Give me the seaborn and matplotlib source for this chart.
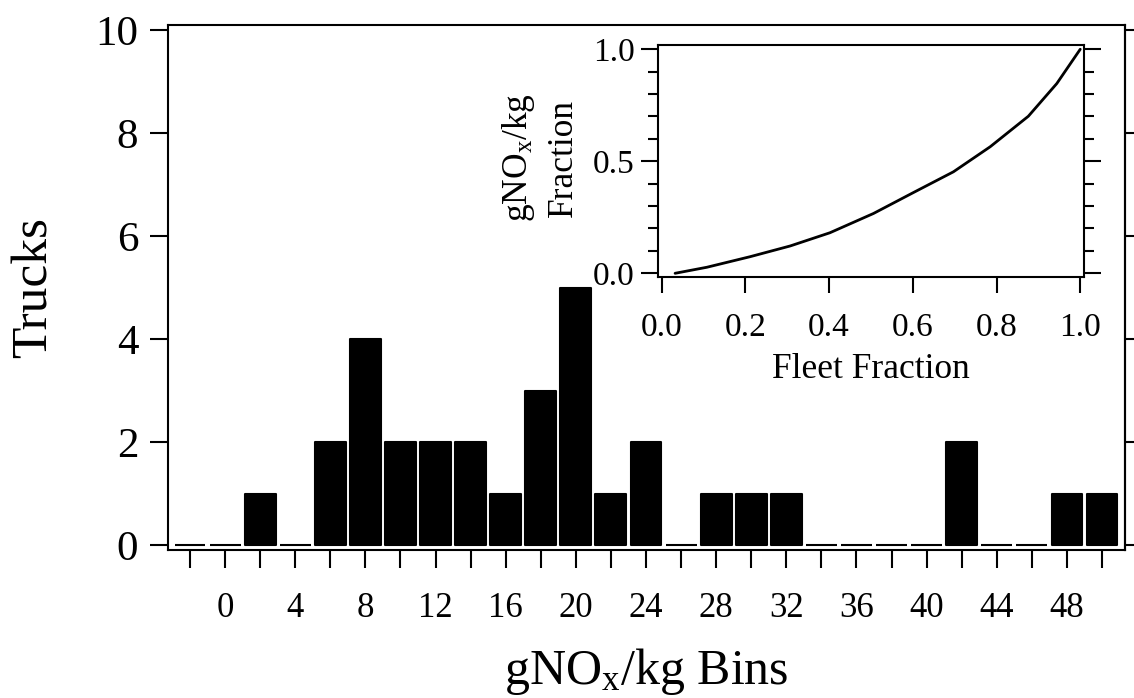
import matplotlib
matplotlib.use("Agg")
import matplotlib.pyplot as plt
from matplotlib.ticker import MultipleLocator, NullLocator, FormatStrFormatter
import seaborn as sns
import pandas as pd

# Histogram of trucks per emission-factor bin (bin centres, gNOx/kg)
bin_centers = [-2, 0, 2, 4, 6, 8, 10, 12, 14, 16, 18, 20, 22, 24, 26,
               28, 30, 32, 34, 36, 38, 40, 42, 44, 46, 48, 50]
truck_counts = [0, 0, 1, 0, 2, 4, 2, 2, 2, 1, 3, 5, 1, 2, 0,
                1, 1, 1, 0, 0, 0, 0, 2, 0, 0, 1, 1]

# Cumulative emission share versus fleet share (inset)
fleet_fraction = [0.032, 0.108, 0.211, 0.307, 0.402, 0.506, 0.601,
                  0.697, 0.785, 0.876, 0.944, 1.0]
nox_fraction = [0.0, 0.027, 0.074, 0.122, 0.181, 0.267, 0.360,
                0.453, 0.565, 0.701, 0.847, 1.0]

y_ticks = [0, 2, 4, 6, 8, 10]
inset_x_ticks = [0.0, 0.2, 0.4, 0.6, 0.8, 1.0]
inset_y_ticks = [0.0, 0.5, 1.0]

sns.set_style("ticks")
plt.rcParams["font.family"] = ["Liberation Serif", "DejaVu Serif"]
plt.rcParams["mathtext.fontset"] = "custom"
plt.rcParams["mathtext.rm"] = "Liberation Serif"
plt.rcParams["mathtext.it"] = "Liberation Serif:italic"
plt.rcParams["mathtext.bf"] = "Liberation Serif:bold"
plt.rcParams["axes.edgecolor"] = "black"
plt.rcParams["xtick.color"] = "black"
plt.rcParams["ytick.color"] = "black"
plt.rcParams["text.color"] = "black"
plt.rcParams["axes.labelcolor"] = "black"

W, H = 1134, 698
fig = plt.figure(figsize=(W / 100, H / 100), dpi=100)
fig.patch.set_facecolor("white")

# ---- main histogram ----
L, R, T, B = 168, 1125, 25, 550
ax = fig.add_axes([L / W, 1 - B / H, (R - L) / W, (B - T) / H])
hist = pd.DataFrame({"bin": bin_centers, "trucks": truck_counts})
sns.barplot(data=hist, x="bin", y="trucks", native_scale=True, width=0.88,
            color="black", saturation=1, edgecolor="black", linewidth=1.5,
            errorbar=None, ax=ax)
for p in ax.patches:
    p.set_joinstyle("round")

ax.set_xlim(-3.254, 51.31)
ax.set_ylim(-0.097, 10.097)
ax.set_xticks(bin_centers)
ax.set_xticklabels([str(b) if (b >= 0 and b % 4 == 0) else "" for b in bin_centers])
ax.set_yticks(y_ticks)
ax.set_yticklabels([str(v) for v in y_ticks])
ax.xaxis.set_minor_locator(NullLocator())
ax.yaxis.set_minor_locator(NullLocator())
ax.tick_params(axis="x", which="major", direction="out", length=13, width=1.5,
               labelsize=25, pad=17, top=False, bottom=True)
ax.tick_params(axis="y", which="major", direction="out", length=13, width=1.5,
               labelsize=31, pad=8.5, left=True, right=False)
for s in ax.spines.values():
    s.set_visible(True)
    s.set_linewidth(1.5)
    s.set_color("black")

sec = ax.secondary_yaxis("right")
sec.set_yticks(y_ticks)
sec.tick_params(axis="y", direction="out", length=7, width=1.5, labelright=False)
sec.spines["right"].set_linewidth(1.5)

ax.set_xlabel(r"gN$\mathrm{O}_\mathrm{x}$/kg Bins", fontsize=36)
ax.xaxis.set_label_coords(0.5, -0.183)
ax.set_ylabel("Trucks", fontsize=37)
ax.yaxis.set_label_coords(-0.115, 0.5)

# ---- inset: cumulative distribution ----
iL, iR, iT, iB = 657.5, 1084, 45, 277
ins = fig.add_axes([iL / W, 1 - iB / H, (iR - iL) / W, (iB - iT) / H])
ins.set_facecolor("white")
sns.lineplot(x=fleet_fraction, y=nox_fraction, ax=ins, color="black",
             linewidth=2, estimator=None, sort=False)
ins.set_xlim(-0.010, 1.009)
ins.set_ylim(-0.0165, 1.019)
ins.set_xticks(inset_x_ticks)
ins.set_yticks(inset_y_ticks)
ins.xaxis.set_major_formatter(FormatStrFormatter("%.1f"))
ins.yaxis.set_major_formatter(FormatStrFormatter("%.1f"))
ins.xaxis.set_minor_locator(NullLocator())
ins.yaxis.set_minor_locator(MultipleLocator(0.1))
ins.tick_params(axis="y", which="both", direction="out", left=True, right=True)
ins.tick_params(axis="y", which="major", length=12, width=1.5, labelsize=24, pad=4.5)
ins.tick_params(axis="y", which="minor", length=7, width=1.5)
ins.tick_params(axis="x", which="major", direction="out", length=11.5, width=1.5,
                labelsize=24, pad=14, top=False, bottom=True)
for s in ins.spines.values():
    s.set_visible(True)
    s.set_linewidth(1.5)
    s.set_color("black")

ins.set_xlabel("Fleet Fraction", fontsize=25.5)
ins.xaxis.set_label_coords(0.5, -0.328)
ins.set_ylabel("gN$\\mathrm{O}_\\mathrm{x}$/kg\nFraction", fontsize=25.5,
               linespacing=1.4, multialignment="center")
ins.yaxis.set_label_coords(-0.182, 0.513)

fig.savefig("out.png", dpi=100)
